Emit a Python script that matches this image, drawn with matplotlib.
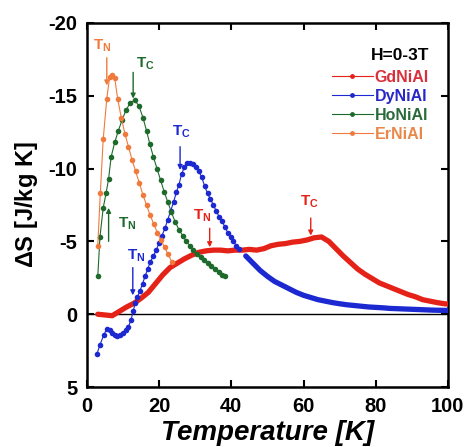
import numpy as np
import matplotlib.pyplot as plt
from matplotlib.lines import Line2D

plt.rcParams['font.family'] = ['Liberation Sans', 'DejaVu Sans']
plt.rcParams['font.weight'] = 'bold'
plt.rcParams['axes.unicode_minus'] = False
plt.rcParams['mathtext.fontset'] = 'custom'
plt.rcParams['mathtext.rm'] = 'Liberation Sans:bold'

# GdNiAl (dense data)
gd_T = [3, 5, 7, 9, 11, 13, 15, 17, 19, 21, 23, 25, 27, 29, 31, 33, 35, 37, 39, 41,
        43, 45, 47, 49, 51, 53, 55, 57, 59, 61, 63, 65, 67, 69, 71, 73, 75, 77, 79, 81,
        83, 85, 87, 89, 91, 93, 95, 97, 99, 100]
gd_S = [0.0, 0.05, 0.1, -0.2, -0.5, -0.75, -1.1, -1.5, -2.1, -2.7, -3.2, -3.5, -3.8, -4.05, -4.25, -4.35, -4.4, -4.4, -4.35, -4.4,
        -4.4, -4.45, -4.4, -4.5, -4.7, -4.8, -4.85, -4.95, -5.0, -5.1, -5.25, -5.3, -5.0, -4.5, -4.0, -3.55, -3.1, -2.75, -2.45, -2.15,
        -1.95, -1.75, -1.55, -1.35, -1.2, -1.0, -0.9, -0.8, -0.72, -0.7]

# DyNiAl
dy_T = [2.8, 3.6, 4.7, 5.5, 6.3, 7.0, 7.7, 8.4, 9.2, 10.0, 10.8, 11.5, 12.2, 12.8, 13.4, 14.0, 14.7, 15.4, 16.1, 16.8,
        17.6, 18.4, 19.2, 20.0, 20.8, 21.6, 22.4, 23.2, 24.0, 24.8, 25.5, 26.2, 27.0, 27.8, 28.6, 29.4, 30.2, 31.0, 31.8, 32.6,
        33.4, 34.2, 35.0, 35.8, 36.6, 37.4, 38.2, 39.0, 39.8, 40.6, 41.4,
        42, 44, 46, 48, 50, 52, 54, 56, 58, 60, 62, 64, 66, 68, 70, 72, 74, 76, 78, 80,
        82, 84, 86, 88, 90, 92, 94, 96, 98, 100]
dy_S = [2.7, 2.1, 1.4, 1.0, 1.1, 1.3, 1.45, 1.5, 1.45, 1.3, 1.1, 0.85, 0.4, -0.2, -0.8, -1.2, -1.6, -2.1, -2.6, -3.1,
        -3.6, -4.0, -4.4, -4.9, -5.4, -5.9, -6.5, -7.1, -7.7, -8.4, -8.9, -9.6, -10.1, -10.4, -10.4, -10.3, -10.1, -9.8, -9.4, -8.8,
        -8.3, -7.9, -7.5, -7.1, -6.7, -6.4, -6.0, -5.6, -5.3, -5.0, -4.7,
        -4.5, -4.0, -3.5, -3.0, -2.6, -2.25, -2.0, -1.75, -1.5, -1.3, -1.15, -1.0, -0.9, -0.8, -0.72, -0.65, -0.6, -0.55, -0.5, -0.47,
        -0.44, -0.4, -0.38, -0.36, -0.34, -0.32, -0.3, -0.28, -0.27, -0.26]

# HoNiAl
ho_T = [3, 3.6, 4.5, 5.3, 6, 6.7, 7.7, 8.7, 9.7, 10.8, 12, 13.2, 14.4, 15.5, 16.5, 17.4, 18.4, 19.4, 20.4, 21.4,
        22.4, 23.4, 24.5, 25.5, 26.5, 27.5, 28.5, 29.5, 30.5, 31.5, 32.5, 33.5, 34.5, 35.5, 36.5, 37.5, 38.2]
ho_S = [-2.6, -5.3, -7.3, -8.3, -9.3, -10.8, -11.8, -12.6, -13.3, -14.0, -14.5, -14.7, -14.3, -13.5, -12.6, -11.7, -10.8, -10.0, -9.2, -8.4,
        -7.7, -7.0, -6.3, -5.8, -5.4, -5.0, -4.7, -4.4, -4.1, -3.9, -3.7, -3.5, -3.3, -3.1, -2.9, -2.7, -2.6]

# ErNiAl
er_T = [3, 3.7, 4.5, 5.5, 6.3, 7, 7.7, 8.5, 9.5, 10.5, 11.5, 12.5, 13.5, 14.5, 15.5, 16.5, 17.5, 18.5, 19.5, 20.5,
        21.5, 22.5, 23.5]
er_S = [-4.7, -8.3, -12.0, -14.8, -16.3, -16.4, -16.2, -14.8, -13.5, -12.4, -11.5, -10.6, -9.8, -9.0, -8.2, -7.5, -6.8, -6.2, -5.6, -5.1,
        -4.6, -4.1, -3.6]

names = ['GdNiAl', 'DyNiAl', 'HoNiAl', 'ErNiAl']
c_gd = '#e52218'
c_dy = '#1c28d0'
c_ho = '#1e6a2c'
c_er = '#f07a3c'
txt_cols = ['#d8303c', '#2828c8', '#2a6a3a', '#e8884a']

fig = plt.figure(figsize=(4.7, 4.47), dpi=100)
ax = fig.add_axes([0.185, 0.134, 0.768, 0.815])

ax.axhline(0, color='black', lw=1.0, zorder=1)

# GdNiAl drawn as a thick band
ax.plot(gd_T, gd_S, '-', color=c_gd, lw=3.8, solid_capstyle='round', zorder=3)

dy_T = np.array(dy_T)
dy_S = np.array(dy_S)
low = dy_T <= 42
ax.plot(dy_T[low], dy_S[low], 'o-', color=c_dy, lw=0.8, ms=4, mew=0, zorder=4)
ax.plot(dy_T[~low], dy_S[~low], '-', color=c_dy, lw=3.8, solid_capstyle='round', zorder=4)

ax.plot(ho_T, ho_S, 'o-', color=c_ho, lw=0.8, ms=4, mew=0, zorder=5)
ax.plot(er_T, er_S, 'o-', color=c_er, lw=0.8, ms=4, mew=0, zorder=5)

# transition temperature markers
def mark(x, y0, y1, sub, tx, ty, col):
    ax.annotate('', xy=(x, y1), xytext=(x, y0),
                arrowprops=dict(arrowstyle='-|>', color=col, lw=1.0, mutation_scale=7, shrinkA=0, shrinkB=0))
    ax.text(tx, ty, r'T$_{\mathregular{%s}}$' % sub, color=col, fontsize=11, ha='left', va='center')

mark(5.5, -17.6, -15.7, 'N', 1.8, -18.4, c_er)
mark(12.8, -16.6, -14.8, 'C', 13.6, -17.2, c_ho)
mark(25.8, -11.5, -9.9, 'C', 23.5, -12.5, c_dy)
mark(6.0, -5.0, -7.3, 'N', 8.6, -6.2, c_ho)
mark(12.7, -3.2, -1.3, 'N', 11.0, -4.0, c_dy)
mark(34.0, -5.9, -4.6, 'N', 29.5, -6.8, c_gd)
mark(62.0, -6.6, -5.4, 'C', 59.0, -7.7, c_gd)

# legend
handles = [Line2D([], [], color=c, lw=0.8, marker='o', ms=3.5, mew=0) for c in [c_gd, c_dy, c_ho, c_er]]
leg = ax.legend(handles, names, title='H=0-3T', loc='upper right', frameon=False,
                fontsize=11.5, title_fontsize=12.5, handlelength=2.6, handletextpad=0.1,
                labelspacing=0.25, borderpad=0, alignment='right',
                bbox_to_anchor=(437 / 470, 1 - 40 / 447), bbox_transform=fig.transFigure)
leg.get_title().set_fontweight('bold')
leg._legend_box.sep = 5
for t, c in zip(leg.get_texts(), txt_cols):
    t.set_color(c)
    t.set_fontweight('bold')

ax.set_xlim(0, 100)
ax.set_ylim(5, -20)
ax.set_xticks([0, 20, 40, 60, 80, 100])
ax.set_yticks([5, 0, -5, -10, -15, -20])
ax.tick_params(direction='in', top=True, right=True, length=5, width=1.5, labelsize=14.5, pad=7)
for lab in ax.get_xticklabels() + ax.get_yticklabels():
    lab.set_fontweight('bold')
for s in ax.spines.values():
    s.set_linewidth(1.8)

ax.set_xlabel('Temperature [K]', fontsize=20, fontweight='bold', style='italic', labelpad=3)
ax.set_ylabel(r'$\Delta$S [J/kg K]', fontsize=17, fontweight='bold', labelpad=6)

fig.savefig('out.png', dpi=100)
